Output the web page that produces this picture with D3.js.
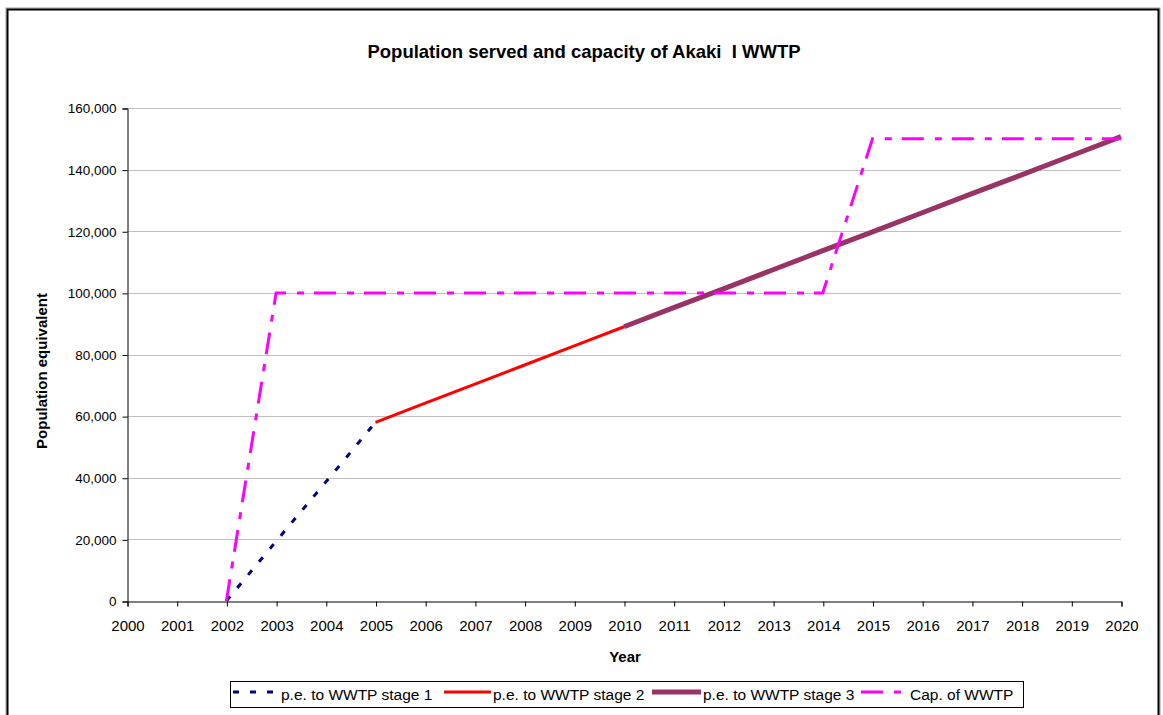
<!DOCTYPE html>
<html>
<head>
<meta charset="utf-8">
<script src="https://cdn.jsdelivr.net/npm/d3@7"></script>
<style>
  html, body { margin: 0; padding: 0; background: #fff; }
  svg { display: block; font-family: Arial, "Liberation Sans", sans-serif; }
</style>
</head>
<body>
<svg id="chart" width="1163" height="715"></svg>
<script>
// Years on the category axis
const years = d3.range(2000, 2021);
const yTicks = [0, 20000, 40000, 60000, 80000, 100000, 120000, 140000, 160000];

// Population equivalent connected to the plant, by construction stage
const stage1Years = [2002, 2003, 2004, 2005];
const stage1Values = [0, 19400, 38600, 58000];

const stage2Years = [2005, 2006, 2007, 2008, 2009, 2010];
const stage2Values = [58000, 64200, 70400, 76600, 82800, 89000];

const stage3Years = [2010, 2011, 2012, 2013, 2014, 2015, 2016, 2017, 2018, 2019, 2020];
const stage3Values = [89000, 95200, 101300, 107500, 113700, 119800, 126000, 132200, 138300, 144500, 150700];

// Design capacity of the plant
const capYears = [2002, 2003, 2004, 2005, 2006, 2007, 2008, 2009, 2010, 2011, 2012, 2013, 2014, 2015, 2016, 2017, 2018, 2019, 2020];
const capValues = [0, 100000, 100000, 100000, 100000, 100000, 100000, 100000, 100000, 100000, 100000, 100000, 100000, 150000, 150000, 150000, 150000, 150000, 150000];

const seriesNames = ["p.e. to WWTP stage 1", "p.e. to WWTP stage 2", "p.e. to WWTP stage 3", "Cap. of WWTP"];

const svg = d3.select("#chart");

// Chart frame with a soft shadow edge
svg.append("rect").attr("x", 6).attr("y", 8).attr("width", 1154).attr("height", 720)
  .attr("fill", "none").attr("stroke", "#9a9a9a").attr("stroke-width", 1);
svg.append("rect").attr("x", 7.5).attr("y", 9.5).attr("width", 1151).attr("height", 720)
  .attr("fill", "#fff").attr("stroke", "#000").attr("stroke-width", 2);

const x = d3.scaleLinear().domain([2000, 2020]).range([127, 1121]);
const y = d3.scaleLinear().domain([0, 160000]).range([601, 108]);

// Horizontal gridlines
svg.append("g").selectAll("line").data(yTicks.filter(d => d > 0)).join("line")
  .attr("x1", x(2000)).attr("x2", x(2020))
  .attr("y1", d => Math.round(y(d)) + 0.5).attr("y2", d => Math.round(y(d)) + 0.5)
  .attr("stroke", "#c0c0c0").attr("stroke-width", 1);

// Axes
const yAxis = d3.axisLeft(y).tickValues(yTicks).tickSize(5).tickPadding(6)
  .tickFormat(d3.format(","));
const gy = svg.append("g").attr("transform", "translate(127.5,0.5)").call(yAxis);
gy.selectAll("text").attr("font-size", 13.5).attr("fill", "#000").attr("font-family", "Arial, 'Liberation Sans', sans-serif");
gy.select(".domain").attr("stroke", "#000");
gy.selectAll(".tick line").attr("stroke", "#000");

const xAxis = d3.axisBottom(x).tickValues(years).tickFormat(d3.format("d")).tickSize(5).tickPadding(14);
const gx = svg.append("g").attr("transform", "translate(0.5,601.5)").call(xAxis);
gx.selectAll("text").attr("font-size", 15).attr("fill", "#000").attr("font-family", "Arial, 'Liberation Sans', sans-serif");
gx.select(".domain").attr("stroke", "#000");
gx.selectAll(".tick line").attr("stroke", "#000");

// Titles
svg.append("text").attr("x", 584).attr("y", 58).attr("text-anchor", "middle")
  .attr("font-size", 18.5).attr("font-weight", "bold").text("Population served and capacity of Akaki  I WWTP")
  .style("white-space", "pre");
svg.append("text").attr("x", 625).attr("y", 662).attr("text-anchor", "middle")
  .attr("font-size", 15).attr("font-weight", "bold").text("Year");
svg.append("text").attr("transform", "translate(47,371) rotate(-90)").attr("text-anchor", "middle")
  .attr("font-size", 15).attr("font-weight", "bold").text("Population equivalent");

// Series
const line = d3.line().x(d => x(d[0])).y(d => y(d[1]));
const zip = (a, b) => a.map((v, i) => [v, b[i]]);

const styles = [
  { color: "#000080", width: 3, dash: "6,11" },
  { color: "#ff0000", width: 3, dash: null },
  { color: "#993366", width: 5, dash: null },
  { color: "#ff00ff", width: 3, dash: "22,11,7,10" }
];
const seriesData = [
  zip(stage1Years, stage1Values),
  zip(stage2Years, stage2Values),
  zip(stage3Years, stage3Values),
  zip(capYears, capValues)
];

svg.append("g").selectAll("path").data(seriesData).join("path")
  .attr("d", line)
  .attr("fill", "none")
  .attr("stroke", (d, i) => styles[i].color)
  .attr("stroke-width", (d, i) => styles[i].width)
  .attr("stroke-dasharray", (d, i) => styles[i].dash)
  .attr("stroke-linejoin", "miter");

// Legend
const lg = svg.append("g");
lg.append("rect").attr("x", 230.5).attr("y", 681.5).attr("width", 793).attr("height", 26)
  .attr("fill", "#fff").attr("stroke", "#000").attr("stroke-width", 1);
const legendX = [233, 444, 652, 861];
const legendLen = [42, 47, 49, 42];
const legendTextX = [281, 493, 703, 910];
seriesNames.forEach((name, i) => {
  lg.append("line").attr("x1", legendX[i]).attr("x2", legendX[i] + legendLen[i])
    .attr("y1", 692).attr("y2", 692)
    .attr("stroke", styles[i].color).attr("stroke-width", styles[i].width)
    .attr("stroke-dasharray", i === 0 ? "6,11" : (i === 3 ? "22,11,7,10" : null));
  lg.append("text").attr("x", legendTextX[i]).attr("y", 700).attr("font-size", 15.5).text(name);
});
</script>
</body>
</html>
